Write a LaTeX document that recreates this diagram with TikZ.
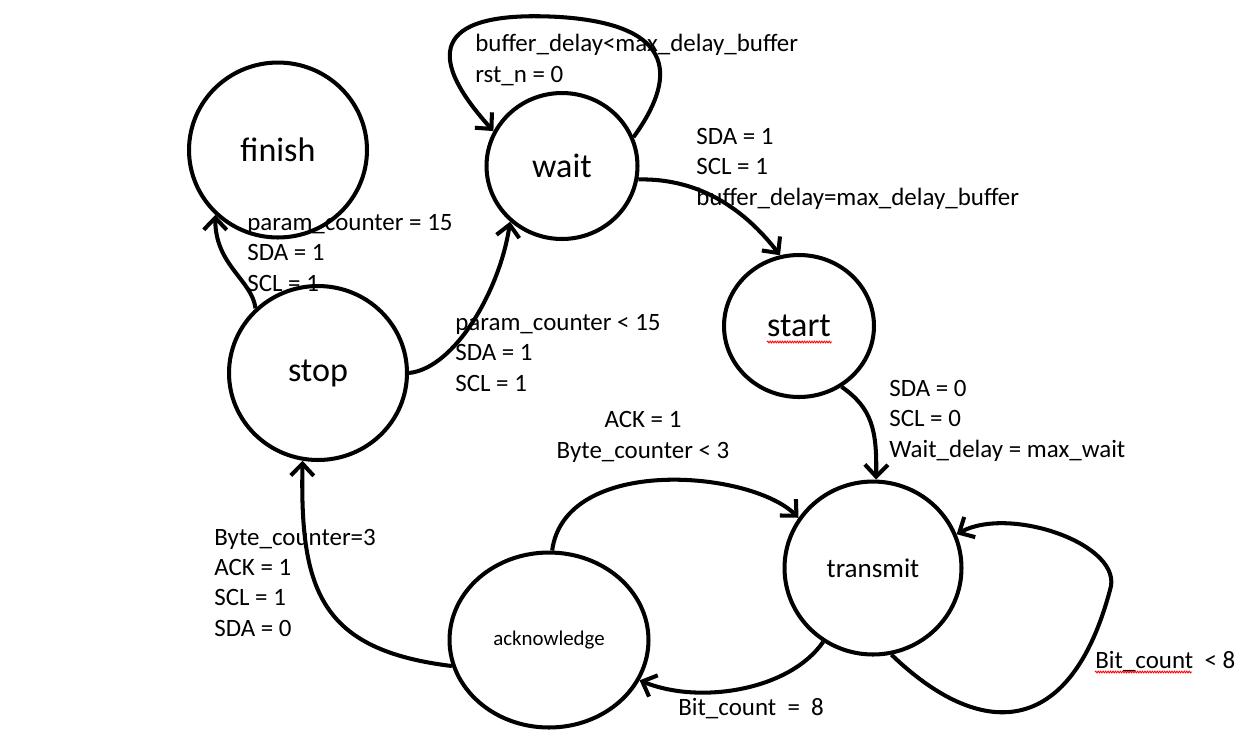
\documentclass[tikz,border=0pt]{standalone}
\usepackage{fontspec}
\setmainfont{Carlito}
\usetikzlibrary{shapes.geometric,arrows.meta,decorations.pathmorphing}

\tikzset{
    state/.style={draw, ellipse, line width=2.3pt, inner sep=0pt, font=\fontsize{19.4}{23}\selectfont},
    edge/.style={line width=2.3pt, -{Straight Barb[length=2.4mm, width=4.6mm]}},
    cond/.style={align=left, inner sep=0pt, anchor=base west, font=\fontsize{14.2}{17.1}\selectfont},
    typo/.style={red, line width=0.5pt, decorate, decoration={snake, amplitude=0.5pt, segment length=1.4pt}}
}

\begin{document}
\begin{tikzpicture}[x=0.02cm, y=-0.02cm]
    \useasboundingbox (0,0) rectangle (1238,752);

    % States
    \node[state, minimum width=3.56cm, minimum height=3.50cm] (finish) at (278,150) {finish};
    \node[state, minimum width=3.02cm, minimum height=2.92cm] (wait) at (562,166) {wait};
    \node[state, minimum width=3.00cm, minimum height=2.84cm] (start) at (799,326) {start};
    \node[state, minimum width=3.56cm, minimum height=3.48cm] (stop) at (318,373) {stop};
    \node[state, minimum width=3.54cm, minimum height=3.46cm, font=\fontsize{15.4}{18}\selectfont] (transmit) at (873,568) {transmit};
    \node[state, minimum width=3.98cm, minimum height=3.50cm, font=\fontsize{11.9}{14}\selectfont] (acknowledge) at (549,640) {acknowledge};

    % Transitions
    \draw[edge] (wait.22) .. controls (675,80) and (680,25) .. (560,17)
        .. controls (440,10) and (420,50) .. (wait.153);
    \draw[edge] (wait.-10) .. controls (700,178) and (745,210) .. (start.105);
    \draw[edge] (start.-55) .. controls (872,408) and (877,430) .. (transmit.88);
    \draw[edge] (transmit.-78) .. controls (980,740) and (1070,740) .. (1110,590)
        .. controls (1125,545) and (1010,505) .. (transmit.22);
    \draw[edge] (transmit.-124) .. controls (790,690) and (700,705) .. (acknowledge.-24);
    \draw[edge] (acknowledge.88) .. controls (565,455) and (750,470) .. (transmit.146);
    \draw[edge] (acknowledge.195) .. controls (320,650) and (300,590) .. (stop.-100);
    \draw[edge] (stop.east) .. controls (455,368) and (500,290) .. (wait.-133);
    \draw[edge] (stop.134) .. controls (252,280) and (215,265) .. (finish.-134);

    % Conditions (placed at the baseline of their last line)
    \node[cond] (waitloop) at (475,82) {buffer\_delay<max\_delay\_buffer\\rst\_n = 0};
    \node[cond] (waittostart) at (696,205) {SDA = 1\\SCL = 1\\buffer\_delay=max\_delay\_buffer};
    \node[cond] (stoptofinish) at (247,291) {param\_counter = 15\\SDA = 1\\SCL = 1};
    \node[cond] (stoptowait) at (455,391) {param\_counter < 15\\SDA = 1\\SCL = 1};
    \node[cond, align=center, anchor=base] (acktotransmit) at (643,458) {ACK = 1\\Byte\_counter < 3};
    \node[cond] (starttotransmit) at (889,457) {SDA = 0\\SCL = 0\\Wait\_delay = max\_wait};
    \node[cond] (acktostop) at (214,636) {Byte\_counter=3\\ACK = 1\\SCL = 1\\SDA = 0};
    \node[cond] (transmittoack) at (678,715) {Bit\_count\ \ =\ \ 8};
    \node[cond] (transmitloop) at (1095,668) {Bit\_count\ \ < 8};

    % Spell check marks
    \draw[typo] (767,342) -- (832,342);
    \draw[typo] (1095,672) -- (1192,672);
\end{tikzpicture}
\end{document}
